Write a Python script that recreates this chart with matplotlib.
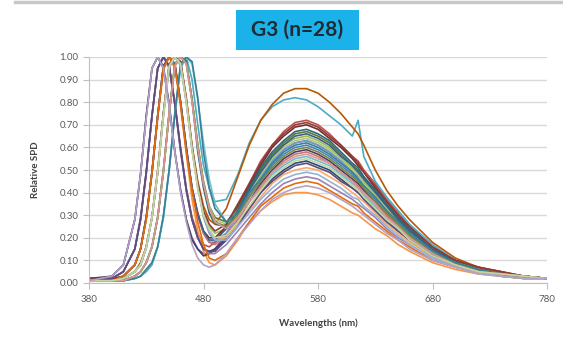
import matplotlib
matplotlib.use("Agg")
import matplotlib.pyplot as plt
from matplotlib.patches import Rectangle
from matplotlib.lines import Line2D

plt.rcParams['font.family'] = ['Lato', 'DejaVu Sans']

# wavelength grid (nm) shared by every spectrum
wavelengths = [380, 400, 410, 420, 425, 430, 435, 440, 445, 450, 455, 460, 465, 470, 475,
               480, 485, 490, 500, 510, 520, 530, 540, 550, 560, 570, 580, 590, 600, 610,
               615, 620, 630, 640, 650, 660, 680, 700, 720, 740, 760, 780]

# relative SPD of the 28 light sources
led_01 = [0.01, 0.01, 0.03, 0.08, 0.15, 0.29, 0.49, 0.74, 0.96, 1.00, 0.96, 0.80, 0.59, 0.42, 0.30, 0.22, 0.18, 0.18, 0.22, 0.30, 0.38,
          0.45, 0.52, 0.57, 0.60, 0.61, 0.59, 0.56, 0.52, 0.48, 0.45, 0.42, 0.37, 0.31, 0.26, 0.21, 0.14, 0.09, 0.06, 0.04, 0.03, 0.02]
led_02 = [0.02, 0.02, 0.05, 0.15, 0.29, 0.49, 0.74, 0.95, 1.00, 0.96, 0.80, 0.60, 0.42, 0.29, 0.22, 0.17, 0.16, 0.18, 0.25, 0.34, 0.44,
          0.54, 0.61, 0.67, 0.71, 0.72, 0.70, 0.66, 0.61, 0.56, 0.54, 0.50, 0.44, 0.37, 0.31, 0.25, 0.16, 0.10, 0.07, 0.05, 0.03, 0.02]
led_03 = [0.01, 0.01, 0.02, 0.05, 0.08, 0.16, 0.29, 0.49, 0.75, 0.96, 1.00, 0.97, 0.81, 0.60, 0.43, 0.31, 0.25, 0.22, 0.24, 0.32, 0.40,
          0.48, 0.55, 0.61, 0.64, 0.65, 0.63, 0.60, 0.55, 0.51, 0.48, 0.45, 0.39, 0.33, 0.28, 0.23, 0.14, 0.09, 0.06, 0.04, 0.03, 0.02]
led_04 = [0.01, 0.03, 0.08, 0.28, 0.48, 0.74, 0.95, 1.00, 0.96, 0.79, 0.58, 0.41, 0.28, 0.20, 0.15, 0.13, 0.13, 0.15, 0.22, 0.30, 0.39,
          0.47, 0.54, 0.59, 0.62, 0.63, 0.61, 0.58, 0.54, 0.49, 0.47, 0.44, 0.38, 0.32, 0.27, 0.22, 0.14, 0.09, 0.06, 0.04, 0.03, 0.02]
led_05 = [0.01, 0.01, 0.01, 0.02, 0.03, 0.05, 0.08, 0.16, 0.29, 0.50, 0.75, 0.95, 1.00, 0.90, 0.70, 0.52, 0.42, 0.36, 0.37, 0.48, 0.62,
          0.72, 0.78, 0.81, 0.82, 0.81, 0.78, 0.74, 0.70, 0.65, 0.72, 0.56, 0.45, 0.38, 0.32, 0.26, 0.17, 0.10, 0.06, 0.04, 0.03, 0.02]
led_06 = [0.01, 0.01, 0.03, 0.08, 0.15, 0.28, 0.48, 0.73, 0.94, 1.00, 0.95, 0.78, 0.57, 0.37, 0.23, 0.14, 0.09, 0.08, 0.12, 0.19, 0.27,
          0.32, 0.36, 0.39, 0.40, 0.40, 0.39, 0.37, 0.34, 0.31, 0.30, 0.28, 0.24, 0.21, 0.17, 0.14, 0.09, 0.06, 0.04, 0.03, 0.02, 0.02]
led_07 = [0.01, 0.02, 0.05, 0.15, 0.28, 0.49, 0.74, 0.95, 1.00, 0.96, 0.79, 0.59, 0.41, 0.28, 0.20, 0.15, 0.14, 0.15, 0.19, 0.26, 0.33,
          0.40, 0.46, 0.50, 0.53, 0.54, 0.52, 0.50, 0.46, 0.42, 0.40, 0.38, 0.33, 0.28, 0.23, 0.19, 0.12, 0.08, 0.05, 0.04, 0.03, 0.02]
led_08 = [0.02, 0.02, 0.03, 0.08, 0.15, 0.29, 0.49, 0.74, 0.96, 1.00, 0.97, 0.80, 0.60, 0.42, 0.31, 0.23, 0.20, 0.20, 0.25, 0.34, 0.43,
          0.52, 0.60, 0.65, 0.69, 0.70, 0.68, 0.64, 0.60, 0.55, 0.52, 0.49, 0.42, 0.36, 0.30, 0.24, 0.15, 0.10, 0.07, 0.04, 0.03, 0.02]
led_09 = [0.01, 0.01, 0.01, 0.03, 0.05, 0.09, 0.16, 0.29, 0.50, 0.75, 0.97, 1.00, 0.98, 0.81, 0.61, 0.45, 0.34, 0.29, 0.27, 0.33, 0.42,
          0.50, 0.57, 0.62, 0.66, 0.67, 0.65, 0.62, 0.57, 0.52, 0.50, 0.47, 0.41, 0.34, 0.29, 0.23, 0.15, 0.10, 0.06, 0.04, 0.03, 0.02]
led_10 = [0.02, 0.03, 0.08, 0.28, 0.48, 0.74, 0.95, 1.00, 0.95, 0.79, 0.58, 0.41, 0.28, 0.19, 0.15, 0.12, 0.13, 0.15, 0.20, 0.28, 0.36,
          0.44, 0.50, 0.55, 0.58, 0.59, 0.57, 0.54, 0.50, 0.46, 0.44, 0.41, 0.36, 0.30, 0.25, 0.21, 0.13, 0.09, 0.06, 0.04, 0.03, 0.02]
led_11 = [0.01, 0.01, 0.01, 0.03, 0.05, 0.09, 0.16, 0.29, 0.50, 0.75, 0.97, 1.00, 0.98, 0.81, 0.58, 0.42, 0.31, 0.26, 0.25, 0.32, 0.42,
          0.51, 0.58, 0.63, 0.67, 0.68, 0.66, 0.63, 0.58, 0.53, 0.51, 0.47, 0.41, 0.35, 0.29, 0.24, 0.15, 0.10, 0.06, 0.04, 0.03, 0.02]
led_12 = [0.01, 0.01, 0.02, 0.05, 0.09, 0.16, 0.29, 0.50, 0.75, 0.97, 1.00, 0.98, 0.82, 0.61, 0.45, 0.34, 0.28, 0.26, 0.33, 0.47, 0.61,
          0.72, 0.79, 0.84, 0.86, 0.86, 0.84, 0.80, 0.75, 0.69, 0.66, 0.61, 0.50, 0.41, 0.34, 0.28, 0.18, 0.11, 0.07, 0.05, 0.03, 0.02]
led_13 = [0.01, 0.01, 0.02, 0.05, 0.08, 0.16, 0.29, 0.49, 0.75, 0.96, 1.00, 0.97, 0.80, 0.60, 0.43, 0.29, 0.22, 0.19, 0.22, 0.30, 0.38,
          0.47, 0.54, 0.59, 0.62, 0.63, 0.61, 0.58, 0.54, 0.49, 0.47, 0.44, 0.38, 0.32, 0.27, 0.22, 0.14, 0.09, 0.06, 0.04, 0.03, 0.02]
led_14 = [0.01, 0.01, 0.03, 0.08, 0.15, 0.29, 0.49, 0.74, 0.95, 1.00, 0.96, 0.80, 0.59, 0.41, 0.30, 0.22, 0.18, 0.17, 0.21, 0.28, 0.36,
          0.43, 0.49, 0.54, 0.57, 0.58, 0.56, 0.53, 0.49, 0.45, 0.43, 0.40, 0.35, 0.30, 0.25, 0.20, 0.13, 0.08, 0.06, 0.04, 0.03, 0.02]
led_15 = [0.01, 0.01, 0.01, 0.03, 0.05, 0.09, 0.16, 0.29, 0.50, 0.75, 0.97, 1.00, 0.97, 0.81, 0.61, 0.44, 0.34, 0.28, 0.26, 0.32, 0.40,
          0.48, 0.55, 0.60, 0.63, 0.64, 0.62, 0.59, 0.55, 0.50, 0.48, 0.44, 0.39, 0.33, 0.27, 0.22, 0.14, 0.09, 0.06, 0.04, 0.03, 0.02]
led_16 = [0.01, 0.02, 0.05, 0.15, 0.28, 0.48, 0.74, 0.95, 1.00, 0.95, 0.79, 0.58, 0.41, 0.28, 0.20, 0.15, 0.13, 0.13, 0.17, 0.23, 0.29,
          0.35, 0.40, 0.44, 0.46, 0.47, 0.46, 0.43, 0.40, 0.37, 0.35, 0.33, 0.29, 0.24, 0.20, 0.17, 0.11, 0.07, 0.05, 0.03, 0.02, 0.02]
led_17 = [0.01, 0.01, 0.01, 0.02, 0.03, 0.06, 0.09, 0.16, 0.29, 0.50, 0.75, 0.97, 1.00, 0.97, 0.81, 0.62, 0.46, 0.35, 0.27, 0.29, 0.36,
          0.42, 0.48, 0.52, 0.55, 0.56, 0.54, 0.52, 0.48, 0.44, 0.42, 0.39, 0.34, 0.29, 0.24, 0.20, 0.13, 0.08, 0.05, 0.04, 0.03, 0.02]
led_18 = [0.01, 0.01, 0.02, 0.05, 0.08, 0.16, 0.29, 0.49, 0.74, 0.96, 1.00, 0.97, 0.80, 0.59, 0.42, 0.30, 0.23, 0.20, 0.20, 0.26, 0.32,
          0.38, 0.44, 0.48, 0.50, 0.51, 0.50, 0.47, 0.44, 0.40, 0.38, 0.36, 0.31, 0.26, 0.22, 0.18, 0.12, 0.08, 0.05, 0.04, 0.03, 0.02]
led_19 = [0.01, 0.01, 0.03, 0.08, 0.15, 0.29, 0.49, 0.74, 0.96, 1.00, 0.97, 0.80, 0.60, 0.42, 0.30, 0.23, 0.19, 0.19, 0.24, 0.32, 0.41,
          0.49, 0.56, 0.61, 0.65, 0.66, 0.64, 0.61, 0.56, 0.52, 0.49, 0.46, 0.40, 0.34, 0.28, 0.23, 0.15, 0.09, 0.06, 0.04, 0.03, 0.02]
led_20 = [0.02, 0.02, 0.02, 0.05, 0.08, 0.16, 0.29, 0.49, 0.75, 0.96, 1.00, 0.98, 0.81, 0.60, 0.44, 0.32, 0.26, 0.23, 0.26, 0.35, 0.44,
          0.53, 0.61, 0.66, 0.70, 0.71, 0.69, 0.65, 0.61, 0.56, 0.53, 0.49, 0.43, 0.36, 0.30, 0.25, 0.16, 0.10, 0.07, 0.05, 0.03, 0.02]
led_21 = [0.01, 0.01, 0.01, 0.03, 0.05, 0.09, 0.16, 0.29, 0.49, 0.75, 0.96, 1.00, 0.97, 0.81, 0.61, 0.44, 0.33, 0.27, 0.25, 0.30, 0.38,
          0.45, 0.51, 0.56, 0.59, 0.60, 0.58, 0.55, 0.51, 0.47, 0.45, 0.42, 0.36, 0.31, 0.26, 0.21, 0.13, 0.09, 0.06, 0.04, 0.03, 0.02]
led_22 = [0.01, 0.02, 0.05, 0.15, 0.28, 0.49, 0.74, 0.95, 1.00, 0.96, 0.79, 0.59, 0.41, 0.28, 0.20, 0.15, 0.14, 0.14, 0.19, 0.25, 0.33,
          0.40, 0.45, 0.49, 0.52, 0.53, 0.51, 0.49, 0.45, 0.42, 0.40, 0.37, 0.32, 0.27, 0.23, 0.19, 0.12, 0.08, 0.05, 0.04, 0.03, 0.02]
led_23 = [0.01, 0.01, 0.01, 0.02, 0.03, 0.06, 0.09, 0.16, 0.30, 0.50, 0.75, 0.97, 1.00, 0.98, 0.82, 0.58, 0.42, 0.33, 0.27, 0.31, 0.40,
          0.46, 0.53, 0.58, 0.61, 0.62, 0.60, 0.57, 0.53, 0.49, 0.46, 0.43, 0.38, 0.32, 0.27, 0.22, 0.14, 0.09, 0.06, 0.04, 0.03, 0.02]
led_24 = [0.01, 0.01, 0.03, 0.08, 0.15, 0.28, 0.49, 0.74, 0.95, 1.00, 0.96, 0.79, 0.58, 0.41, 0.27, 0.17, 0.11, 0.10, 0.13, 0.20, 0.27,
          0.34, 0.38, 0.42, 0.44, 0.45, 0.44, 0.41, 0.38, 0.35, 0.34, 0.31, 0.27, 0.23, 0.19, 0.16, 0.10, 0.07, 0.05, 0.03, 0.02, 0.02]
led_25 = [0.01, 0.01, 0.02, 0.05, 0.08, 0.15, 0.29, 0.49, 0.74, 0.95, 1.00, 0.96, 0.80, 0.59, 0.42, 0.30, 0.23, 0.19, 0.19, 0.25, 0.31,
          0.37, 0.42, 0.46, 0.48, 0.49, 0.48, 0.45, 0.42, 0.38, 0.37, 0.34, 0.30, 0.25, 0.21, 0.17, 0.11, 0.07, 0.05, 0.03, 0.02, 0.02]
led_26 = [0.01, 0.01, 0.01, 0.03, 0.05, 0.09, 0.16, 0.29, 0.49, 0.75, 0.96, 1.00, 0.97, 0.80, 0.60, 0.44, 0.33, 0.27, 0.24, 0.29, 0.36,
          0.42, 0.49, 0.53, 0.56, 0.57, 0.55, 0.53, 0.49, 0.45, 0.42, 0.40, 0.35, 0.29, 0.25, 0.20, 0.13, 0.08, 0.05, 0.04, 0.03, 0.02]
led_27 = [0.01, 0.01, 0.02, 0.05, 0.08, 0.16, 0.29, 0.49, 0.74, 0.96, 1.00, 0.97, 0.80, 0.59, 0.42, 0.30, 0.24, 0.20, 0.21, 0.27, 0.34,
          0.41, 0.47, 0.51, 0.54, 0.55, 0.53, 0.51, 0.47, 0.43, 0.41, 0.38, 0.33, 0.28, 0.24, 0.19, 0.12, 0.08, 0.05, 0.04, 0.03, 0.02]
led_28 = [0.01, 0.03, 0.08, 0.28, 0.48, 0.73, 0.95, 1.00, 0.95, 0.78, 0.58, 0.40, 0.27, 0.17, 0.11, 0.08, 0.07, 0.08, 0.13, 0.20, 0.26,
          0.32, 0.37, 0.40, 0.42, 0.43, 0.42, 0.40, 0.37, 0.34, 0.32, 0.30, 0.26, 0.22, 0.19, 0.15, 0.10, 0.07, 0.04, 0.03, 0.02, 0.02]

series = [led_01, led_02, led_03, led_04, led_05, led_06, led_07, led_08, led_09, led_10,
          led_11, led_12, led_13, led_14, led_15, led_16, led_17, led_18, led_19, led_20,
          led_21, led_22, led_23, led_24, led_25, led_26, led_27, led_28]

# office-style series palette
series_colors = ['#4F81BD', '#C0504D', '#9BBB59', '#8064A2', '#4BACC6', '#F79646',
                 '#2C4D75', '#772C2A', '#5F7530', '#4D3B62', '#276A7C', '#B65708',
                 '#729ACA', '#CD7371', '#AFC97A', '#9983B5', '#6FBDD1', '#F9AB6B',
                 '#3A5F8B', '#8E3B38', '#738C42', '#5E4B7C', '#388093', '#E46C0A',
                 '#95B3D7', '#D99694', '#C3D69B', '#B2A2C7']

x_ticks = [380, 480, 580, 680, 780]
y_ticks = [0.0, 0.1, 0.2, 0.3, 0.4, 0.5, 0.6, 0.7, 0.8, 0.9, 1.0]

W, H = 563, 337
fig = plt.figure(figsize=(W / 100, H / 100), dpi=100)
ax = fig.add_axes([89 / W, 1 - 283 / H, (547 - 89) / W, (283 - 57) / H])

for vals, col in zip(series, series_colors):
    ax.plot(wavelengths, vals, color=col, lw=1.2, solid_joinstyle='round')

ax.set_xlim(380, 780)
ax.set_ylim(0, 1)
ax.set_xticks(x_ticks)
ax.set_xticklabels([str(v) for v in x_ticks])
ax.set_yticks(y_ticks)
ax.set_yticklabels(['%.2f' % v for v in y_ticks])
ax.grid(axis='y', color='#D9D9D9', lw=1.0)
ax.set_axisbelow(True)
for side in ['top', 'right']:
    ax.spines[side].set_visible(False)
for side in ['left', 'bottom']:
    ax.spines[side].set_color('#BFBFBF')
ax.tick_params(colors='#BFBFBF', labelcolor='#595959', labelsize=7, length=4, width=0.8)
ax.tick_params(axis='x', pad=5)

ax.set_xlabel('Wavelengths (nm)', fontsize=7, fontweight='bold', color='#404040', labelpad=10)
ax.set_ylabel('Relative SPD', fontsize=7, fontweight='bold', color='#404040', labelpad=14)

# title in a coloured box
fig.patches.append(Rectangle((236 / W, 1 - 50 / H), (359 - 236) / W, 40 / H,
                             transform=fig.transFigure, facecolor='#1AB2E8', edgecolor='none'))
fig.text(297.5 / W, 1 - 30 / H, 'G3 (n=28)', ha='center', va='center',
         fontsize=15, fontweight='bold', color='#1F2A33')

# grey rule along the top edge
fig.lines.append(Line2D([15 / W, 1], [1 - 1.5 / H, 1 - 1.5 / H], transform=fig.transFigure,
                        color='#C8C8C8', lw=2.5))

fig.savefig('out.png', dpi=100)
